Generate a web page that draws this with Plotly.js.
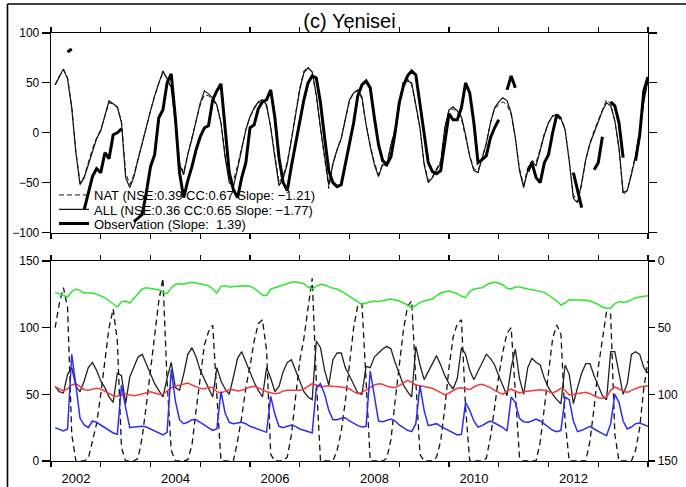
<!DOCTYPE html>
<html>
<head>
<meta charset="utf-8">
<script src="https://cdn.plot.ly/plotly-3.0.1.min.js"></script>
<style>
html,body{margin:0;padding:0;background:#fff;}
#chart{width:686px;height:487px;}
</style>
</head>
<body>
<div id="chart"></div>
<script>
// ---- data (monthly, Jan 2002 - Dec 2013) ----
const monthCount = 144;
const yearTicks = [2002,2003,2004,2005,2006,2007,2008,2009,2010,2011,2012,2013,2014];
const yearLabels = ['2002','','2004','','2006','','2008','','2010','','2012','',''];
const topTicks = [-100,-50,0,50,100];
const bottomTicks = [0,50,100,150];

const natValues = [
 48,57,63,55,26,-19,-50,-44,-30,-16,-5,3,
 17,30,29,25,12,-40,-52,-42,-26,-9,6,22,
 37,50,60,55,44,12,-30,-40,-21,-5,12,28,
 38,37,33,27,10,-22,-46,-48,-33,-14,3,16,
 24,30,30,26,6,-22,-50,-43,-29,-6,18,45,
 62,66,60,36,4,-26,-56,-32,-17,-5,14,32,
 40,42,34,8,-12,-30,-42,-31,-30,-11,5,30,
 52,54,48,27,4,-30,-48,-44,-36,-28,6,22,
 24,20,14,-3,-23,-36,-38,-25,-10,10,24,28,
 31,28,18,-5,-36,-52,-35,-28,-30,-16,-1,10,
 16,19,15,4,-28,-62,-70,-52,-26,-10,2,13,
 24,33,29,12,-16,-62,-58,-40,-22,2,32,52
];
const allValues = [
 48,56,64,54,25,-20,-52,-45,-32,-17,-6,2,
 16,32,29,26,10,-45,-55,-44,-27,-10,5,22,
 37,50,62,54,45,10,-32,-42,-22,-6,12,30,
 42,39,35,28,10,-25,-50,-54,-36,-16,3,16,
 25,31,33,28,5,-25,-53,-46,-31,-7,17,43,
 60,65,61,38,5,-25,-52,-31,-17,-6,14,33,
 40,43,36,8,-14,-32,-44,-32,-33,-12,2,28,
 50,52,50,28,5,-32,-50,-45,-37,-30,5,23,
 26,22,16,-2,-24,-38,-40,-26,-11,10,25,31,
 35,32,20,-5,-38,-55,-38,-29,-33,-18,-2,10,
 17,18,14,3,-28,-66,-70,-50,-27,-11,0,11,
 22,30,27,12,-15,-60,-58,-42,-24,0,32,53
];
const obsValues = [
 null,null,null,81,84,null,null,-77,-60,-44,-36,-40,
 -20,-26,-2,0,4,null,null,-89,-85,-82,-60,-34,
 -22,15,23,50,59,15,-40,-65,-48,-34,-17,-4,
 5,7,33,42,49,8,-40,-57,-65,-45,-30,5,
 8,24,31,33,43,15,-25,-50,-58,-33,-10,14,
 33,50,57,55,30,-5,-38,-50,-54,-52,-32,-10,
 10,37,48,52,45,15,-12,-28,-32,-24,0,30,
 47,57,62,58,28,-5,-30,-39,-41,-38,-10,19,
 13,13,25,50,40,10,-30,-27,-23,-5,5,13,
 null,43,57,45,null,null,-39,-30,-45,-50,-30,-22,
 0,18,14,null,null,-40,-58,-75,null,null,-37,-30,
 -4,null,31,27,10,-25,null,null,-28,-2,42,56
];

const greenValues = [
 23.5,24.5,26,27,23,21,22,24,24,24,25,26,
 27.5,30,32,34.5,30.5,30,31.5,28,24,21,20,20.5,
 20.5,21.5,23.5,24.5,20,17.5,17,17.5,16.5,16,16.5,17,
 17.5,18.5,21,24,19,18.5,19.5,19.5,19,18.5,18.5,19,
 20.5,23,25.5,26,21,20,19,17.5,16.5,16,15.5,16,
 17,19.5,21,19,17.5,18,19.5,20.5,21,22.5,24.5,26.5,
 28.5,30.5,32.5,31.5,30.5,30,30.5,29.5,29,28.5,29,30,
 31.5,33,35.5,33.5,31,30,29,28.5,26,24,23,22.5,
 23.5,24.5,26.5,27.5,23,21,20.5,20,18,16.5,16,16.5,
 18,20.5,21,19.5,19.5,20.5,21,21.5,22,22.5,23.5,25.5,
 27.5,30,33,31.5,29,29,29.5,29.5,29.5,30,31,32.5,
 34.5,35.5,35.5,32,30.5,31,30.5,29,27.5,27,26.5,26
];
const redValues = [
 55.5,54,52.5,54,57,58,55.5,53.5,53,54,54.5,54,
 52.5,51,49,48.5,49.5,50.5,49.5,49,49.5,50.5,51.5,52,
 51,50,50,52.5,55,56,57,57.5,58.5,57,55.5,54.5,
 54,55.5,55,52,51,52,53.5,53.5,52.5,53,54.5,55.5,
 56,55,53.5,52,51,50.5,51,52.5,53,53,52.5,53,
 54,56,58,57,55.5,56,56.5,56,56,55.5,55,54,
 52,50.5,51.5,53.5,55.5,57,58,57.5,56,55.5,55,56.5,
 58.5,60.5,59,57,56.5,56,55.5,54.5,53,51,49.5,51,
 53,54.5,55,54,53.5,55.5,57,57.5,56.5,55,53,51.5,
 50,52.5,54,52.5,51,52,52.5,53,53.5,53.5,53,52,
 51,52.5,54.5,53,49.5,50,50.5,51,51.5,50.5,49,47.5,
 47,48,53,55.5,54,52.5,51.5,53,54.5,55.5,56,56.5
];
const blueValues = [
 25,23.5,22.5,24,80,57,32,27,25,30,29,27,
 25,23,21,20,57,40,25,25.5,26,26,25.5,24,
 22.5,20.5,19.5,21.5,68.5,45,31,28,29,31,31,29,
 27,25,23,24,52,36,29,28,28.5,29,28,26,
 25,24,22.5,21.5,48.5,35,26,25,26,27,26,24,
 23,22,21,55,58,50,38,31,31,32,32.5,30,
 28,26.5,25.5,26,67.5,47,30,29.5,30.5,31.5,30,27,
 25,23,22,28,56.5,38,26.5,27,28,26,24.5,23,
 21,19.5,20,44,38,30,25.5,26.5,28.5,30,28.5,27,
 25,22.5,48,44,32,29.5,29,30,31.5,30,27.5,25,
 23,22,23,48,46,30,22,23,24.5,26,24,22,
 20.5,19,28,50,44,30,24,25.5,28,28.5,27,26
];
const blackValues = [
 56,52,51,65,70,56,52,60,70,74,68,60,
 55,48,44,66,64,43,63,70,78,80,73,66,
 58,53,48,62,74,55,53,65,80,85,78,68,
 61,54,48,70,60,54,50,63,77,82,74,66,
 59,53,48,70,62,52,56,67,74,76,68,59,
 52,48,46,90,85,68,57,76,81,81,70,64,
 58,51,50,71,70,78,81,84,86,84,74,65,
 57,52,48,86,72,61,67,74,79,72,64,58,
 54,62,85,80,68,61,67,74,80,77,72,64,
 56,49,70,84,62,50,70,77,74,72,62,55,
 50,46,43,72,65,43,55,66,73,73,64,56,
 49,46,82,82,65,50,58,80,82,80,70,66
];
const dashedValues = [
 100,118,130,115,20,0,0,0,2,14,28,50,
 73,100,114,90,10,0,0,0,2,18,42,68,
 95,120,137,60,8,0,0,0,1,12,38,61,
 87,97,102,50,0,0,0,0,15,33,55,71,
 90,103,106,83,5,0,0,0,3,20,48,75,
 92,115,137,60,0,0,0,0,8,22,45,75,
 100,117,118,60,0,0,0,0,2,16,45,73,
 98,116,120,60,5,0,0,0,3,15,40,70,
 93,103,106,40,0,0,0,0,2,18,40,64,
 82,96,100,55,3,0,0,0,0,14,40,70,
 92,102,95,30,0,0,0,0,0,15,40,70,
 92,112,110,20,0,0,0,0,8,25,55,75
];

const months = [];
for (let i = 0; i < monthCount; i++) months.push(2002 + (i + 1) / 12);

const FONT = 'Liberation Sans, Arial, Helvetica, sans-serif';

const traces = [
  {x: months, y: natValues, xaxis:'x', yaxis:'y', mode:'lines', name:'NAT (NSE:0.39 CC:0.67 Slope: \u22121.21)',
   line:{color:'#111', width:1, dash:'5px,3px'}, legend:'legend'},
  {x: months, y: allValues, xaxis:'x', yaxis:'y', mode:'lines', name:'ALL (NSE:0.36 CC:0.65 Slope: \u22121.77)',
   line:{color:'#111', width:1.2}, legend:'legend2'},
  {x: months, y: obsValues, xaxis:'x', yaxis:'y', mode:'lines', name:'Observation (Slope:  1.39)',
   line:{color:'#000', width:3}, connectgaps:false, legend:'legend3'},
  {x: months, y: dashedValues, xaxis:'x2', yaxis:'y2', mode:'lines', showlegend:false,
   line:{color:'#111', width:1.3, dash:'6px,4px'}},
  {x: months, y: blackValues, xaxis:'x2', yaxis:'y2', mode:'lines', showlegend:false,
   line:{color:'#222', width:1.3}},
  {x: months, y: redValues, xaxis:'x2', yaxis:'y2', mode:'lines', showlegend:false,
   line:{color:'#f23c3c', width:1.5}},
  {x: months, y: blueValues, xaxis:'x2', yaxis:'y2', mode:'lines', showlegend:false,
   line:{color:'#2c2cf2', width:1.5}},
  {x: months, y: greenValues, xaxis:'x2', yaxis:'y3', mode:'lines', showlegend:false,
   line:{color:'#2ee62e', width:1.5}}
];

const legendBase = {
  xref:'paper', yref:'paper', xanchor:'left', yanchor:'middle',
  bgcolor:'rgba(0,0,0,0)', borderwidth:0, font:{family:FONT, size:13, color:'#000'},
  itemwidth:30, tracegroupgap:0
};
const paperY = py => (461 - py) / 428;
const paperX = px => (px - 51) / 597;

const layout = {
  width:686, height:487,
  margin:{l:51, r:38, t:33, b:26, pad:0},
  paper_bgcolor:'#fff', plot_bgcolor:'#fff',
  font:{family:FONT, size:12, color:'#000'},
  showlegend:true,
  title:{text:'(c) Yenisei', font:{family:FONT, size:20, color:'#000'},
         x:0.5, xref:'paper', xanchor:'center', y:(487-28)/487, yref:'container', yanchor:'bottom', pad:{t:0,b:0}},
  legend: Object.assign({}, legendBase, {x:paperX(54), y:paperY(195)}),
  legend2: Object.assign({}, legendBase, {x:paperX(54), y:paperY(209.5)}),
  legend3: Object.assign({}, legendBase, {x:paperX(54), y:paperY(223.5)}),
  xaxis:{anchor:'y', domain:[0,1], range:[2002,2014], tickvals:yearTicks, ticktext:yearTicks.map(()=>''),
         showticklabels:false, ticks:'outside', ticklen:5, tickwidth:1.2, tickcolor:'#000',
         showline:true, linecolor:'#000', linewidth:1.3, mirror:'ticks', showgrid:false, zeroline:false},
  yaxis:{anchor:'x', domain:[(461-232.5)/428, 1], range:[-100,100], tickvals:topTicks,
         ticks:'outside', ticklen:8, tickwidth:1.2, tickcolor:'#000',
         showline:true, linecolor:'#000', linewidth:1.3, mirror:'ticks', showgrid:false, zeroline:false,
         tickfont:{family:FONT, size:12, color:'#000'}},
  xaxis2:{anchor:'y2', domain:[0,1], range:[2002,2014], tickvals:yearTicks, ticktext:yearLabels,
          ticklabelshift:25, ticks:'outside', ticklen:5, tickwidth:1.2, tickcolor:'#000',
          showline:true, linecolor:'#000', linewidth:1.3, mirror:'ticks', showgrid:false, zeroline:false,
          tickfont:{family:FONT, size:13, color:'#000'}},
  yaxis2:{anchor:'x2', domain:[0, 200/428], range:[0,150], tickvals:bottomTicks,
          ticks:'outside', ticklen:8, tickwidth:1.2, tickcolor:'#000',
          showline:true, linecolor:'#000', linewidth:1.3, mirror:true, showgrid:false, zeroline:false,
          tickfont:{family:FONT, size:12, color:'#000'}},
  yaxis3:{anchor:'x2', overlaying:'y2', side:'right', range:[150,0], tickvals:bottomTicks,
          ticks:'outside', ticklen:6, tickwidth:1.2, tickcolor:'#000',
          showline:true, linecolor:'#000', linewidth:1.3, showgrid:false, zeroline:false,
          tickfont:{family:FONT, size:12, color:'#000'}},
  shapes:[
    {type:'line', xref:'paper', yref:'paper', x0:paperX(7.5), x1:paperX(7.5), y0:paperY(4), y1:paperY(495),
     line:{color:'#000', width:1.6}},
    {type:'line', xref:'paper', yref:'paper', x0:paperX(7.5), x1:paperX(700), y0:paperY(4), y1:paperY(4),
     line:{color:'#000', width:1.6}}
  ]
};

Plotly.newPlot('chart', traces, layout, {displayModeBar:false, staticPlot:true});
</script>
</body>
</html>
